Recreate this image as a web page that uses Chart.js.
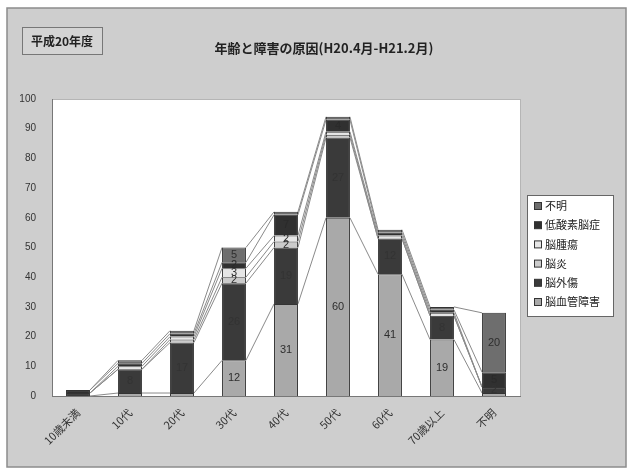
<!DOCTYPE html>
<html>
<head>
<meta charset="utf-8">
<script src="https://cdn.jsdelivr.net/npm/chart.js@4/dist/chart.umd.min.js"></script>
<style>
  body { margin: 0; background: #fff; }
  #wrap { width: 632px; height: 474px; }
</style>
</head>
<body>
<div id="wrap"><canvas id="barChart" width="632" height="474"></canvas></div>
<script>
// data
const categories = ["10歳未満", "10代", "20代", "30代", "40代", "50代", "60代", "70歳以上", "不明"];
const seriesNames = ["脳血管障害", "脳外傷", "脳炎", "脳腫瘍", "低酸素脳症", "不明"];
const cerebrovascular = [0, 1, 1, 12, 31, 60, 41, 19, 1];
const trauma = [1, 8, 17, 26, 19, 27, 12, 8, 2];
const encephalitis = [0, 0, 1, 2, 2, 1, 0, 0, 0];
const tumor = [0, 1, 1, 3, 2, 1, 1, 1, 0];
const hypoxia = [1, 1, 1, 2, 7, 4, 1, 1, 5];
const unknown = [0, 1, 1, 5, 1, 1, 1, 1, 20];
const yTicks = [0, 10, 20, 30, 40, 50, 60, 70, 80, 90, 100];

const seriesValues = [cerebrovascular, trauma, encephalitis, tumor, hypoxia, unknown];
const fills = ["#a9a9a9", "#3a3a3a", "#cbcbcb", "#e6e6e6", "#303030", "#6e6e6e"];
const labelColors = ["#2e2e2e", "#333333", "#2e2e2e", "#2e2e2e", "#2a2a2a", "#2e2e2e"];

var ctx = document.getElementById("barChart").getContext("2d");

// gray page, white plot area
const backdrop = {
  id: "backdrop",
  beforeDraw(chart) {
    const c = chart.ctx, a = chart.chartArea;
    c.save();
    c.fillStyle = "#fff";
    c.fillRect(0, 0, chart.width, chart.height);
    c.fillStyle = "#cecece";
    c.fillRect(7, 8, 619, 459);
    c.strokeStyle = "#8c8c8c";
    c.lineWidth = 1.5;
    c.strokeRect(7, 8, 619, 459);
    c.fillStyle = "#fff";
    c.fillRect(a.left, a.top, a.right - a.left, a.bottom - a.top);
    c.strokeStyle = "#b5b5b5";
    c.lineWidth = 1;
    c.strokeRect(a.left + 0.5, a.top + 0.5, a.right - a.left, a.bottom - a.top);
    c.restore();
  }
};

// Excel style series lines between neighbouring bars
const seriesLines = {
  id: "seriesLines",
  beforeDatasetsDraw(chart) {
    const c = chart.ctx, y = chart.scales.y;
    c.save();
    c.strokeStyle = "#8a8a8a";
    c.lineWidth = 1;
    var sums = categories.map(() => 0);
    seriesValues.forEach(function(vals, i) {
      const meta = chart.getDatasetMeta(i);
      vals.forEach((v, j) => sums[j] += v);
      for (var j = 0; j < categories.length - 1; j++) {
        const b1 = meta.data[j], b2 = meta.data[j + 1];
        c.beginPath();
        c.moveTo(b1.x + b1.width / 2, y.getPixelForValue(sums[j]));
        c.lineTo(b2.x - b2.width / 2, y.getPixelForValue(sums[j + 1]));
        c.stroke();
      }
    });
    c.restore();
  }
};

// value labels inside the segments (dark ones nearly vanish, as in the scan)
const valueLabels = {
  id: "valueLabels",
  afterDatasetsDraw(chart) {
    const c = chart.ctx;
    c.save();
    c.font = "11px 'Liberation Sans', sans-serif";
    c.textAlign = "center";
    c.textBaseline = "middle";
    seriesValues.forEach(function(vals, i) {
      const meta = chart.getDatasetMeta(i);
      c.fillStyle = labelColors[i];
      vals.forEach(function(v, j) {
        if (v < 2) return;
        const b = meta.data[j];
        c.fillText(String(v), b.x, (b.y + b.base) / 2);
      });
    });
    c.restore();
  }
};

// title, year box and the boxed legend
const decorations = {
  id: "decorations",
  afterDraw(chart) {
    const c = chart.ctx;
    c.save();
    c.fillStyle = "#d4d4d4";
    c.fillRect(22, 27, 80, 27);
    c.strokeStyle = "#777";
    c.lineWidth = 1;
    c.strokeRect(22.5, 27.5, 80, 27);
    c.fillStyle = "#222";
    c.textBaseline = "middle";
    c.font = "bold 12px 'Noto Sans CJK JP', sans-serif";
    c.textAlign = "center";
    c.fillText("平成20年度", 62, 41);
    c.font = "bold 13px 'Noto Sans CJK JP', sans-serif";
    c.fillText("年齢と障害の原因(H20.4月-H21.2月)", 324, 48);

    // legend
    c.fillStyle = "#fff";
    c.fillRect(527, 195, 86, 121);
    c.strokeStyle = "#666";
    c.strokeRect(527.5, 195.5, 86, 121);
    c.font = "11px 'Noto Sans CJK JP', sans-serif";
    c.textAlign = "left";
    for (var k = 0; k < seriesNames.length; k++) {
      const i = seriesNames.length - 1 - k;
      const yy = 206 + k * 19.2;
      c.fillStyle = fills[i];
      c.fillRect(534, yy - 3.5, 7, 7);
      c.strokeStyle = "#333";
      c.strokeRect(534.5, yy - 3.5, 7, 7);
      c.fillStyle = "#222";
      c.fillText(seriesNames[i], 545, yy);
    }
    c.restore();
  }
};

var barChart = new Chart(ctx, {
  type: "bar",
  data: {
    labels: categories,
    datasets: seriesValues.map((vals, i) => ({
      label: seriesNames[i],
      data: vals,
      backgroundColor: fills[i],
      borderColor: "#333",
      borderWidth: 1,
      barPercentage: 0.46,
      categoryPercentage: 1
    }))
  },
  options: {
    responsive: false,
    animation: false,
    layout: { padding: { left: 0, right: 112, top: 99, bottom: 0 } },
    plugins: { legend: { display: false }, tooltip: { enabled: false } },
    scales: {
      x: {
        stacked: true,
        grid: { display: false },
        border: { color: "#777" },
        ticks: {
          color: "#333",
          font: { size: 11, family: "'Noto Sans CJK JP', sans-serif" },
          minRotation: 45,
          maxRotation: 45,
          padding: 2
        },
        afterFit: function(s) { s.height = 78; }
      },
      y: {
        stacked: true,
        min: 0,
        max: 100,
        grid: { display: false },
        border: { color: "#777" },
        afterBuildTicks: function(s) { s.ticks = yTicks.map(v => ({ value: v })); },
        ticks: {
          color: "#333",
          font: { size: 10, family: "'Liberation Sans', sans-serif" },
          padding: 8
        },
        afterFit: function(s) { s.width = 52; }
      }
    }
  },
  plugins: [backdrop, seriesLines, valueLabels, decorations]
});
</script>
</body>
</html>
